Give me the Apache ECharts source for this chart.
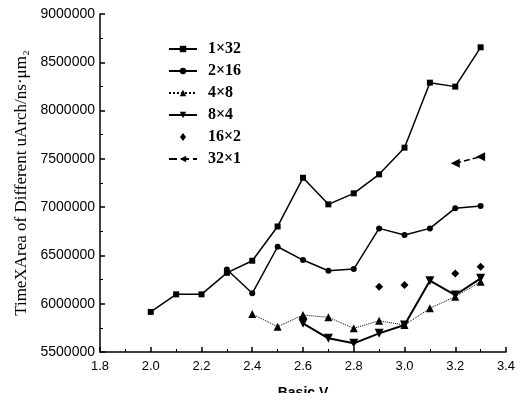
<!DOCTYPE html>
<html><head><meta charset="utf-8">
<script src="https://cdn.jsdelivr.net/npm/echarts@6/dist/echarts.min.js"></script>
<style>html,body{margin:0;padding:0;background:#fff}#c{width:527px;height:393px}</style>
</head><body><div id="c"></div>
<script>
var names = ['1×32','2×16','4×8','8×4','16×2','32×1'];
var x1x32 = [2.0,2.1,2.2,2.3,2.4,2.5,2.6,2.7,2.8,2.9,3.0,3.1,3.2,3.3];
var y1x32 = [5915000,6097000,6097000,6320000,6445000,6800000,7304000,7029000,7143000,7340000,7616000,8289000,8248000,8655000];
var x2x16 = [2.3,2.4,2.5,2.6,2.7,2.8,2.9,3.0,3.1,3.2,3.3];
var y2x16 = [6355000,6108000,6590000,6452000,6342000,6359000,6780000,6711000,6780000,6989000,7012000];
var x4x8 = [2.4,2.5,2.6,2.7,2.8,2.9,3.0,3.1,3.2,3.3];
var y4x8 = [5893000,5762000,5883000,5859000,5745000,5824000,5779000,5952000,6073000,6228000];
var x8x4 = [2.6,2.7,2.8,2.9,3.0,3.1,3.2,3.3];
var y8x4 = [5797000,5642000,5590000,5693000,5779000,6238000,6090000,6263000];
var x16x2 = [2.6,2.9,3.0,3.2,3.3];
var y16x2 = [5852000,6176000,6193000,6314000,6383000];
var x32x1 = [3.2,3.3];
var y32x1 = [7455000,7523000];

function pairs(xs, ys){ return xs.map(function(x,i){return [x, ys[i]];}); }

var chart = echarts.init(document.getElementById('c'));
var serif = '"Liberation Serif","Times New Roman",serif';
var sans = '"Liberation Sans",Arial,sans-serif';
function ser(name, data, sym, size, rot, lineType, lw, noLine){
  return {
    name: name, type: noLine ? 'scatter' : 'line', data: data,
    symbol: sym, symbolSize: size, symbolRotate: rot,
    itemStyle: {color: '#000', opacity: 1},
    lineStyle: {color: '#000', width: lw, type: lineType},
    emphasis: {disabled: true},
    animation: false
  };
}
var legendData = names.map(function(n, i){
  if (i === 4) return {name: n, icon: 'path://M0,4L0,4M14,0L17,4L14,8L11,4ZM28,4L28,4'};
  return {name: n};
});
chart.setOption({
  animation: false,
  grid: {left: 100, right: 21, top: 14, bottom: 41, outerBoundsMode: 'none', containLabel: false},
  legend: {
    orient: 'vertical', left: 163, top: 36, itemGap: 6, itemWidth: 28, itemHeight: 8,
    textStyle: {fontFamily: serif, fontSize: 16, lineHeight: 16, fontWeight: 'bold', color: '#000', padding: [0,0,0,6]},
    data: legendData
  },
  xAxis: {
    type: 'value', min: 1.8, max: 3.4, interval: 0.2,
    name: 'Basic V', nameLocation: 'middle', nameGap: 34,
    nameTextStyle: {fontFamily: sans, fontSize: 14, fontWeight: 'bold', color: '#000'},
    axisLine: {lineStyle: {color: '#000', width: 1.5}},
    axisTick: {inside: true, length: 5, lineStyle: {color: '#000', width: 1.5}},
    minorTick: {show: true, splitNumber: 2, length: 3, lineStyle: {color: '#000'}},
    axisLabel: {fontFamily: sans, fontSize: 13, color: '#000', margin: 8, formatter: function(v){return v.toFixed(1);}},
    splitLine: {show: false}
  },
  yAxis: {
    type: 'value', min: 5500000, max: 9000000, interval: 500000,
    name: 'TimeXArea of Different uArch/ns·μm₂', nameLocation: 'middle', nameGap: 70,
    nameTextStyle: {fontFamily: serif, fontSize: 17, color: '#000'},
    axisLine: {lineStyle: {color: '#000', width: 1.5}},
    axisTick: {inside: true, length: 5, lineStyle: {color: '#000', width: 1.5}},
    minorTick: {show: true, splitNumber: 2, length: 3, lineStyle: {color: '#000'}},
    axisLabel: {fontFamily: sans, fontSize: 14, color: '#000', margin: 5, formatter: function(v){return String(v);}},
    splitLine: {show: false}
  },
  series: [
    ser(names[0], pairs(x1x32, y1x32), 'rect', 6, 0, 'solid', 1.5),
    ser(names[1], pairs(x2x16, y2x16), 'circle', 6, 0, 'solid', 1.5),
    ser(names[2], pairs(x4x8, y4x8), 'triangle', 8, 0, 'dotted', 1),
    ser(names[3], pairs(x8x4, y8x4), 'triangle', 9, 180, 'solid', 2),
    ser(names[4], pairs(x16x2, y16x2), 'diamond', 8, 0, 'solid', 1, true),
    ser(names[5], pairs(x32x1, y32x1), 'triangle', 9, 90, 'dashed', 1.5)
  ]
});
</script></body></html>
